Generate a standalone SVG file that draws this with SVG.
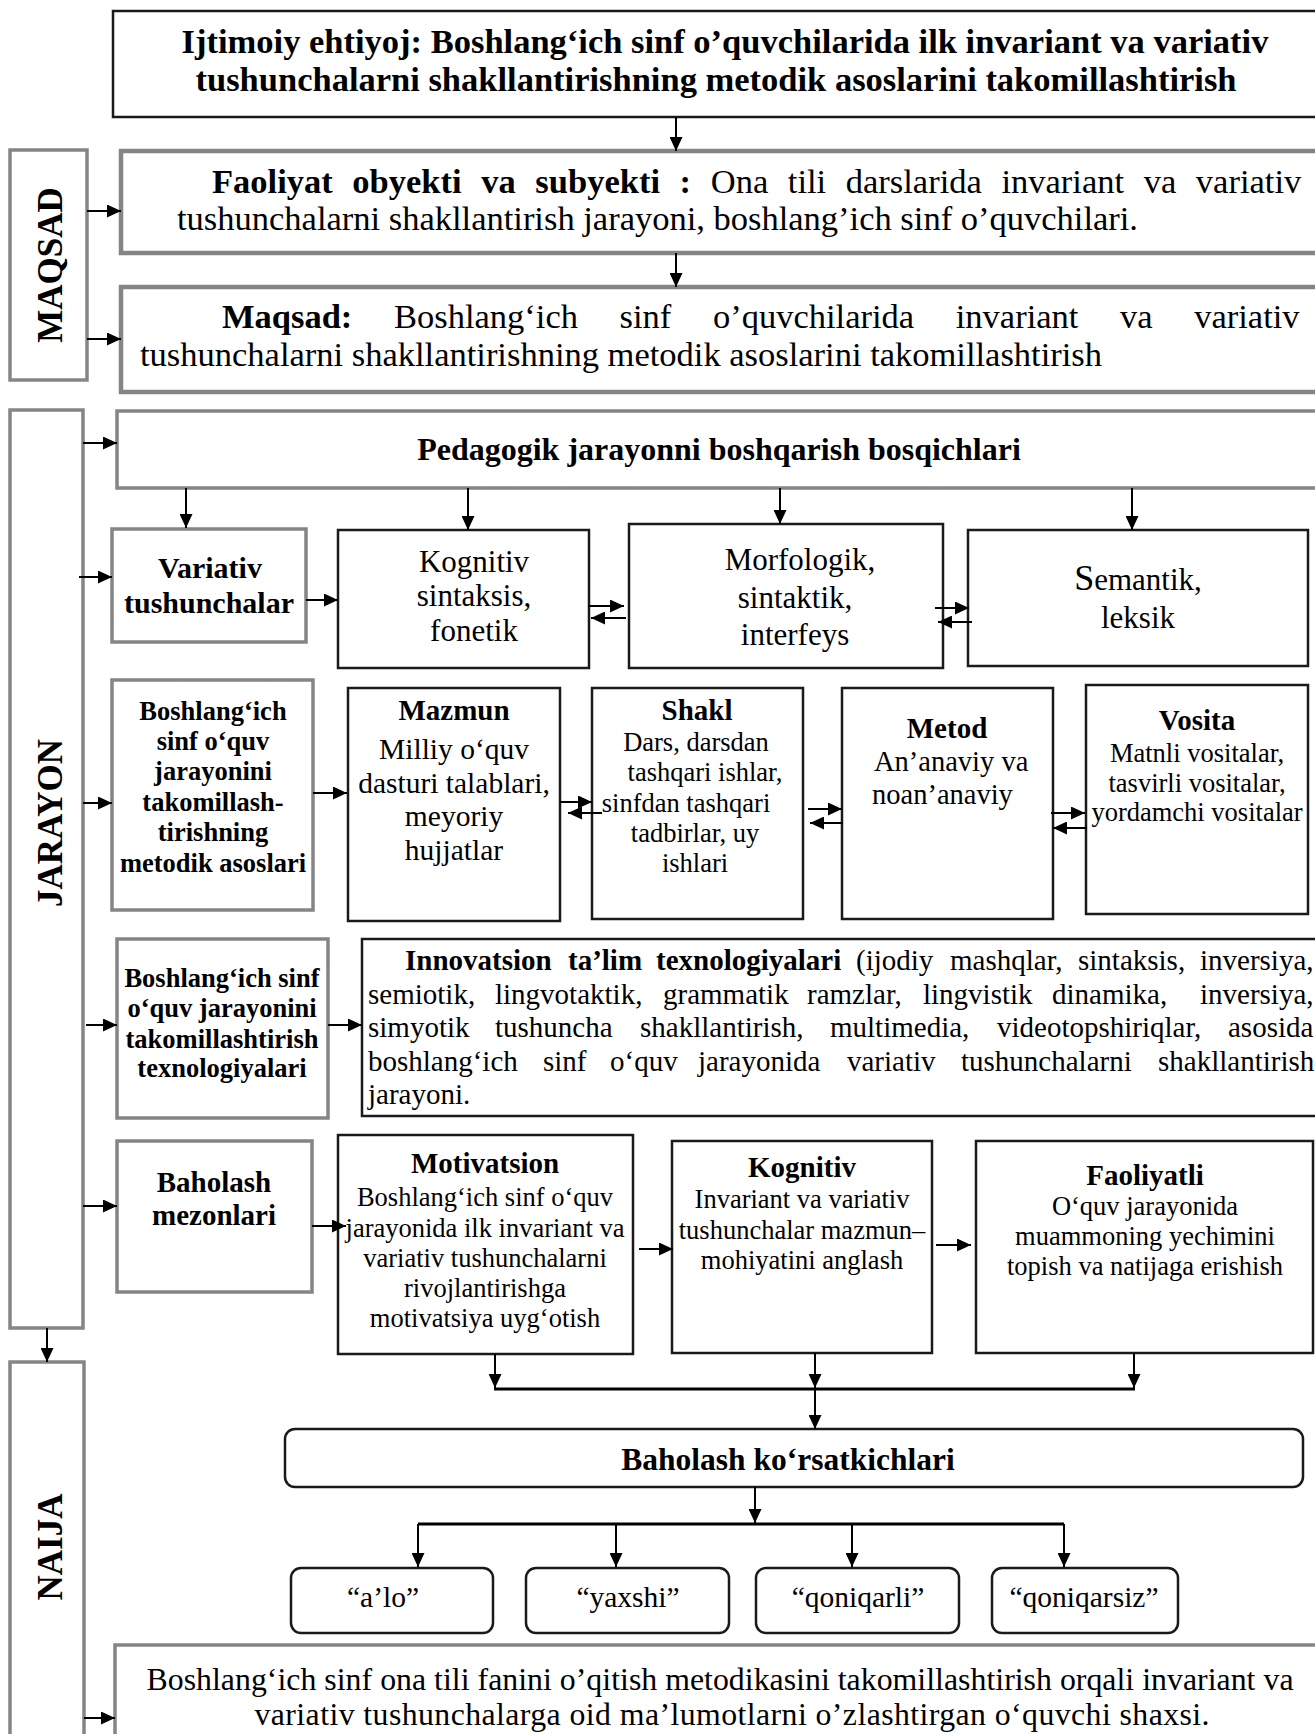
<svg xmlns="http://www.w3.org/2000/svg" width="1315" height="1734" viewBox="0 0 1315 1734">
<style>
.g{fill:#fff;stroke:#858585;stroke-width:3.5}
.gt{fill:#fff;stroke:#858585;stroke-width:4.5}
.k{fill:#fff;stroke:#1a1a1a;stroke-width:2.5}
text{font-family:"Liberation Serif","Times New Roman",serif;fill:#000}
.b{font-weight:bold}
.c{text-anchor:middle}
.ln{stroke:#000;stroke-width:2;fill:none}
.ln3{stroke:#000;stroke-width:3;fill:none}
</style>
<defs>
<marker id="ah" markerUnits="userSpaceOnUse" markerWidth="14" markerHeight="13" refX="14" refY="6.5" orient="auto">
<path d="M0,0 L14,6.5 L0,13 z" fill="#000"/>
</marker>
</defs>
<rect width="1315" height="1734" fill="#fff"/>

<g id="top">
<rect class="k" x="113" y="11" width="1215" height="106"/>
<text class="b c" x="725" y="53" font-size="34.5">Ijtimoiy ehtiyoj: Boshlang‘ich sinf o’quvchilarida ilk invariant va variativ</text>
<text class="b c" x="716" y="91" font-size="34.5">tushunchalarni shakllantirishning metodik asoslarini takomillashtirish</text>
</g>

<g id="maqsad-label">
<rect class="g" x="10" y="150" width="77" height="230"/>
<text class="b c" transform="translate(62,265) rotate(-90)" font-size="35">MAQSAD</text>
</g>

<g id="faoliyat">
<rect class="gt" x="121" y="151" width="1210" height="102"/>
<text x="212" y="193" font-size="34.5" word-spacing="11"><tspan class="b">Faoliyat obyekti va subyekti :</tspan> Ona tili darslarida invariant va variativ</text>
<text x="177" y="230" font-size="34.5">tushunchalarni shakllantirish jarayoni, boshlang’ich sinf o’quvchilari.</text>
</g>

<g id="maqsad">
<rect class="gt" x="121" y="287" width="1210" height="105"/>
<text x="222" y="328" font-size="34.5" word-spacing="33"><tspan class="b">Maqsad:</tspan> Boshlang‘ich sinf o’quvchilarida invariant va variativ</text>
<text x="140" y="366" font-size="34.5">tushunchalarni shakllantirishning metodik asoslarini takomillashtirish</text>
</g>

<g id="jarayon-label">
<rect class="g" x="10" y="410" width="73" height="918"/>
<text class="b c" transform="translate(62,823) rotate(-90)" font-size="35">JARAYON</text>
</g>

<g id="pedagogik">
<rect class="g" x="117" y="411" width="1210" height="77"/>
<text class="b c" x="719" y="460" font-size="32">Pedagogik jarayonni boshqarish bosqichlari</text>
</g>

<g id="variativ">
<rect class="g" x="112" y="529" width="194" height="113"/>
<text class="b c" x="210" y="578" font-size="30">Variativ</text>
<text class="b c" x="209" y="613" font-size="30">tushunchalar</text>
</g>

<g id="kognitiv1">
<rect class="k" x="338" y="530" width="251" height="138"/>
<text class="c" x="474" y="572" font-size="31">Kognitiv</text>
<text class="c" x="474" y="606" font-size="31">sintaksis,</text>
<text class="c" x="474" y="641" font-size="31">fonetik</text>
</g>

<g id="morfologik">
<rect class="k" x="629" y="524" width="314" height="144"/>
<text class="c" x="800" y="570" font-size="31">Morfologik,</text>
<text class="c" x="795" y="608" font-size="31">sintaktik,</text>
<text class="c" x="795" y="645" font-size="31">interfeys</text>
</g>

<g id="semantik">
<rect class="k" x="968" y="530" width="340" height="136"/>
<text class="c" x="1138" y="590" font-size="31"><tspan font-size="36">S</tspan>emantik,</text>
<text class="c" x="1138" y="628" font-size="31">leksik</text>
</g>

<g id="metodik-asoslar">
<rect class="g" x="112" y="680" width="201" height="230"/>
<text class="b c" x="213" y="720" font-size="26.5">Boshlang‘ich</text>
<text class="b c" x="213" y="750" font-size="26.5">sinf o‘quv</text>
<text class="b c" x="213" y="780" font-size="26.5">jarayonini</text>
<text class="b c" x="213" y="811" font-size="26.5">takomillash-</text>
<text class="b c" x="213" y="841" font-size="26.5">tirishning</text>
<text class="b c" x="213" y="872" font-size="26.5">metodik asoslari</text>
</g>

<g id="mazmun">
<rect class="k" x="348" y="688" width="212" height="233"/>
<text class="b c" x="454" y="720" font-size="29">Mazmun</text>
<text class="c" x="454" y="759" font-size="29.5">Milliy o‘quv</text>
<text class="c" x="454" y="793" font-size="29.5">dasturi talablari,</text>
<text class="c" x="454" y="826" font-size="29.5">meyoriy</text>
<text class="c" x="454" y="860" font-size="29.5">hujjatlar</text>
</g>

<g id="shakl">
<rect class="k" x="592" y="688" width="211" height="231"/>
<text class="b c" x="697" y="720" font-size="29">Shakl</text>
<text class="c" x="696" y="751" font-size="26.5">Dars, darsdan</text>
<text class="c" x="705" y="781" font-size="26.5">tashqari ishlar,</text>
<text class="c" x="686" y="812" font-size="26.5">sinfdan tashqari</text>
<text class="c" x="695" y="842" font-size="26.5">tadbirlar, uy</text>
<text class="c" x="695" y="872" font-size="26.5">ishlari</text>
</g>

<g id="metod">
<rect class="k" x="842" y="688" width="211" height="231"/>
<text class="b c" x="947" y="738" font-size="29">Metod</text>
<text x="874" y="771" font-size="28.5">An’anaviy va</text>
<text x="872" y="804" font-size="28.5">noan’anaviy</text>
</g>

<g id="vosita">
<rect class="k" x="1086" y="685" width="222" height="229"/>
<text class="b c" x="1197" y="730" font-size="29">Vosita</text>
<text class="c" x="1197" y="762" font-size="26.5">Matnli vositalar,</text>
<text class="c" x="1197" y="792" font-size="26.5">tasvirli vositalar,</text>
<text class="c" x="1197" y="821" font-size="26.5">yordamchi vositalar</text>
</g>

<g id="texnologiyalar">
<rect class="g" x="117" y="939" width="211" height="179"/>
<text class="b c" x="222" y="987" font-size="26.5">Boshlang‘ich sinf</text>
<text class="b c" x="222" y="1017" font-size="26.5">o‘quv jarayonini</text>
<text class="b c" x="222" y="1048" font-size="26.5">takomillashtirish</text>
<text class="b c" x="222" y="1077" font-size="26.5">texnologiyalari</text>
</g>

<g id="innovatsion">
<rect class="k" x="362" y="939" width="970" height="177"/>
<text y="970" font-size="29"><tspan class="b" x="405">Innovatsion</tspan><tspan class="b" x="568">ta’lim</tspan><tspan class="b" x="656">texnologiyalari</tspan><tspan x="856">(ijodiy</tspan><tspan x="950">mashqlar,</tspan><tspan x="1078">sintaksis,</tspan><tspan x="1200">inversiya,</tspan></text>
<text y="1004" font-size="29"><tspan x="368">semiotik,</tspan><tspan x="495">lingvotaktik,</tspan><tspan x="663">grammatik</tspan><tspan x="807">ramzlar,</tspan><tspan x="923">lingvistik</tspan><tspan x="1052">dinamika,</tspan><tspan x="1200">inversiya,</tspan></text>
<text y="1037" font-size="29"><tspan x="368">simyotik</tspan><tspan x="495">tushuncha</tspan><tspan x="640">shakllantirish,</tspan><tspan x="830">multimedia,</tspan><tspan x="997">videotopshiriqlar,</tspan><tspan x="1228">asosida</tspan></text>
<text y="1071" font-size="29"><tspan x="368">boshlang‘ich</tspan><tspan x="543">sinf</tspan><tspan x="610">o‘quv</tspan><tspan x="698">jarayonida</tspan><tspan x="847">variativ</tspan><tspan x="961">tushunchalarni</tspan><tspan x="1158">shakllantirish</tspan></text>
<text x="368" y="1104" font-size="29">jarayoni.</text>
</g>

<g id="baholash-mezonlari">
<rect class="g" x="117" y="1141" width="195" height="151"/>
<text class="b c" x="214" y="1192" font-size="29">Baholash</text>
<text class="b c" x="214" y="1225" font-size="29">mezonlari</text>
</g>

<g id="motivatsion">
<rect class="k" x="338" y="1135" width="295" height="219"/>
<text class="b c" x="485" y="1173" font-size="29">Motivatsion</text>
<text class="c" x="485" y="1206" font-size="26.5">Boshlang‘ich sinf o‘quv</text>
<text class="c" x="485" y="1237" font-size="26.5">jarayonida ilk invariant va</text>
<text class="c" x="485" y="1267" font-size="26.5">variativ tushunchalarni</text>
<text class="c" x="485" y="1297" font-size="26.5">rivojlantirishga</text>
<text class="c" x="485" y="1327" font-size="26.5">motivatsiya uyg‘otish</text>
</g>

<g id="kognitiv2">
<rect class="k" x="672" y="1141" width="260" height="212"/>
<text class="b c" x="802" y="1177" font-size="29">Kognitiv</text>
<text class="c" x="802" y="1208" font-size="26.5">Invariant va variativ</text>
<text class="c" x="802" y="1239" font-size="26.5">tushunchalar mazmun–</text>
<text class="c" x="802" y="1269" font-size="26.5">mohiyatini anglash</text>
</g>

<g id="faoliyatli">
<rect class="k" x="976" y="1141" width="337" height="212"/>
<text class="b c" x="1145" y="1185" font-size="29">Faoliyatli</text>
<text class="c" x="1145" y="1215" font-size="26.5">O‘quv jarayonida</text>
<text class="c" x="1145" y="1245" font-size="26.5">muammoning yechimini</text>
<text class="c" x="1145" y="1275" font-size="26.5">topish va natijaga erishish</text>
</g>

<g id="naija-label">
<rect class="g" x="10" y="1362" width="74" height="380"/>
<text class="b c" transform="translate(62,1547) rotate(-90)" font-size="35">NAIJA</text>
</g>

<g id="korsatkichlar">
<rect class="k" x="285" y="1429" width="1018" height="58" rx="10"/>
<text class="b c" x="788" y="1470" font-size="31.5">Baholash ko‘rsatkichlari</text>
</g>

<g id="alo">
<rect class="k" x="291" y="1568" width="202" height="65" rx="10"/>
<text class="c" x="383" y="1607" font-size="29.5">“a’lo”</text>
</g>
<g id="yaxshi">
<rect class="k" x="526" y="1568" width="203" height="65" rx="10"/>
<text class="c" x="628" y="1607" font-size="29.5">“yaxshi”</text>
</g>
<g id="qoniqarli">
<rect class="k" x="756" y="1568" width="203" height="65" rx="10"/>
<text class="c" x="858" y="1607" font-size="29.5">“qoniqarli”</text>
</g>
<g id="qoniqarsiz">
<rect class="k" x="992" y="1568" width="186" height="65" rx="10"/>
<text class="c" x="1084" y="1607" font-size="29.5">“qoniqarsiz”</text>
</g>

<g id="natija">
<rect class="g" x="115" y="1645" width="1217" height="100"/>
<text class="c" x="720" y="1690" font-size="31.8" textLength="1147" lengthAdjust="spacing">Boshlang‘ich sinf ona tili fanini o’qitish metodikasini takomillashtirish orqali invariant va</text>
<text class="c" x="732" y="1725" font-size="31.8" textLength="955" lengthAdjust="spacing">variativ tushunchalarga oid ma’lumotlarni o’zlashtirgan o‘quvchi shaxsi.</text>
</g>

<g id="connectors">
<line class="ln" x1="676" y1="117" x2="676" y2="151" marker-end="url(#ah)"/>
<line class="ln" x1="676" y1="253" x2="676" y2="287" marker-end="url(#ah)"/>
<line class="ln" x1="87" y1="211" x2="121" y2="211" marker-end="url(#ah)"/>
<line class="ln" x1="87" y1="339" x2="121" y2="339" marker-end="url(#ah)"/>
<line class="ln" x1="83" y1="443" x2="117" y2="443" marker-end="url(#ah)"/>
<line class="ln" x1="186" y1="488" x2="186" y2="528" marker-end="url(#ah)"/>
<line class="ln" x1="468" y1="488" x2="468" y2="530" marker-end="url(#ah)"/>
<line class="ln" x1="780" y1="488" x2="780" y2="524" marker-end="url(#ah)"/>
<line class="ln" x1="1132" y1="488" x2="1132" y2="530" marker-end="url(#ah)"/>
<line class="ln" x1="79" y1="577" x2="112" y2="577" marker-end="url(#ah)"/>
<line class="ln" x1="306" y1="600" x2="338" y2="600" marker-end="url(#ah)"/>
<line class="ln" x1="588" y1="606" x2="624" y2="606" marker-end="url(#ah)"/>
<line class="ln" x1="626" y1="618" x2="591" y2="618" marker-end="url(#ah)"/>
<line class="ln" x1="935" y1="608" x2="969" y2="608" marker-end="url(#ah)"/>
<line class="ln" x1="972" y1="622" x2="938" y2="622" marker-end="url(#ah)"/>
<line class="ln" x1="83" y1="803" x2="112" y2="803" marker-end="url(#ah)"/>
<line class="ln" x1="313" y1="793" x2="347" y2="793" marker-end="url(#ah)"/>
<line class="ln" x1="560" y1="802" x2="592" y2="802" marker-end="url(#ah)"/>
<line class="ln" x1="602" y1="813" x2="568" y2="813" marker-end="url(#ah)"/>
<line class="ln" x1="808" y1="809" x2="842" y2="809" marker-end="url(#ah)"/>
<line class="ln" x1="843" y1="823" x2="810" y2="823" marker-end="url(#ah)"/>
<line class="ln" x1="1051" y1="813" x2="1085" y2="813" marker-end="url(#ah)"/>
<line class="ln" x1="1087" y1="828" x2="1053" y2="828" marker-end="url(#ah)"/>
<line class="ln" x1="86" y1="1025" x2="117" y2="1025" marker-end="url(#ah)"/>
<line class="ln" x1="328" y1="1025" x2="362" y2="1025" marker-end="url(#ah)"/>
<line class="ln" x1="83" y1="1206" x2="117" y2="1206" marker-end="url(#ah)"/>
<line class="ln" x1="312" y1="1226" x2="346" y2="1226" marker-end="url(#ah)"/>
<line class="ln" x1="639" y1="1249" x2="673" y2="1249" marker-end="url(#ah)"/>
<line class="ln" x1="936" y1="1245" x2="971" y2="1245" marker-end="url(#ah)"/>
<line class="ln" x1="47" y1="1328" x2="47" y2="1362" marker-end="url(#ah)"/>
<line class="ln" x1="495" y1="1354" x2="495" y2="1388" marker-end="url(#ah)"/>
<line class="ln" x1="815" y1="1353" x2="815" y2="1388" marker-end="url(#ah)"/>
<line class="ln" x1="1134" y1="1353" x2="1134" y2="1388" marker-end="url(#ah)"/>
<line class="ln3" x1="494" y1="1389" x2="1135" y2="1389"/>
<line class="ln" x1="815" y1="1389" x2="815" y2="1429" marker-end="url(#ah)"/>
<line class="ln" x1="755" y1="1487" x2="755" y2="1523" marker-end="url(#ah)"/>
<line class="ln3" x1="418" y1="1524" x2="1064" y2="1524"/>
<line class="ln" x1="418" y1="1524" x2="418" y2="1567" marker-end="url(#ah)"/>
<line class="ln" x1="616" y1="1524" x2="616" y2="1567" marker-end="url(#ah)"/>
<line class="ln" x1="852" y1="1524" x2="852" y2="1567" marker-end="url(#ah)"/>
<line class="ln" x1="1064" y1="1524" x2="1064" y2="1567" marker-end="url(#ah)"/>
<line class="ln" x1="84" y1="1718" x2="115" y2="1718" marker-end="url(#ah)"/>
</g>
</svg>
